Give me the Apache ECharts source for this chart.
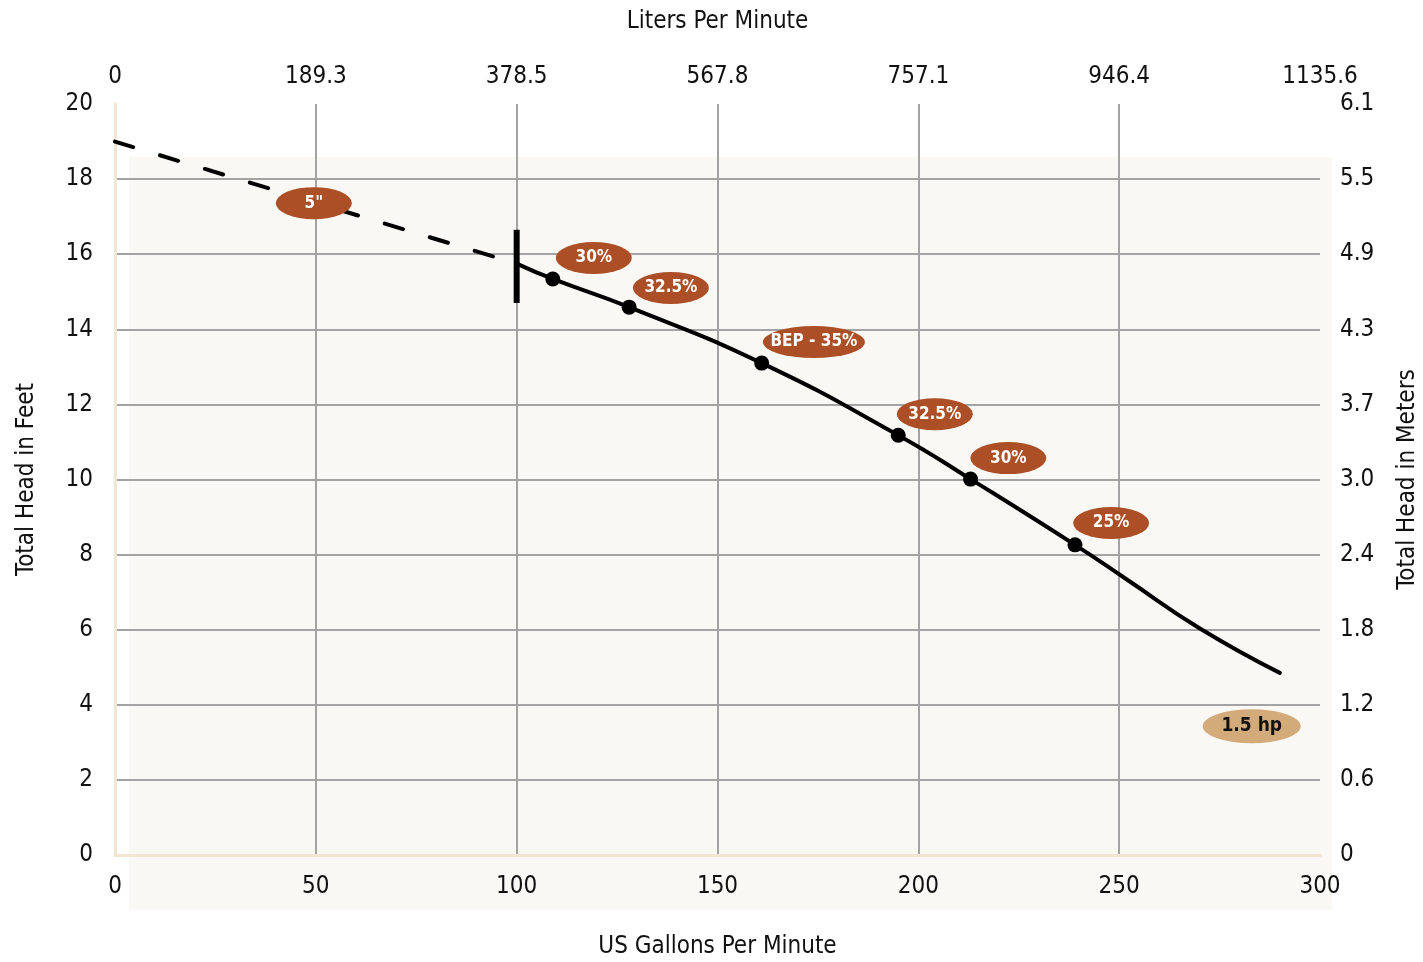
<!DOCTYPE html>
<html><head><meta charset="utf-8">
<script src="https://cdn.jsdelivr.net/npm/echarts@6/dist/echarts.min.js"></script>
<style>html,body{margin:0;padding:0;background:#fff;overflow:hidden}#c{width:1423px;height:962px}</style>
</head><body><div id="c"></div>
<script>
// ---- data ----
const gpmTicks = [0, 50, 100, 150, 200, 250, 300];
const lpmTickLabels = ['0', '189.3', '378.5', '567.8', '757.1', '946.4', '1135.6'];
const feetTicks = [0, 2, 4, 6, 8, 10, 12, 14, 16, 18, 20];
const meterTickLabels = ['0', '0.6', '1.2', '1.8', '2.4', '3.0', '3.7', '4.3', '4.9', '5.5', '6.1'];
const dashedCurve = [[0, 19.0], [50, 17.37], [100, 15.75]];
const solidCurve = [[100, 15.75], [109, 15.34], [128, 14.59], [161, 13.1], [195, 11.18], [213, 10.01], [239, 8.26], [252, 7.33], [270, 6.04], [290, 4.85]];
const effPoints = [[109, 15.34], [128, 14.59], [161, 13.1], [195, 11.18], [213, 10.01], [239, 8.26]];
const startMarker = [[100, 16.65], [100, 14.7]];
const effLabels = ['5"', '30%', '32.5%', 'BEP - 35%', '32.5%', '30%', '25%'];
const effLabelPos = [[49.5, 17.36], [119.2, 15.9], [138.4, 15.1], [174, 13.66], [204.1, 11.74], [222.4, 10.57], [248, 8.84]];
const hpLabel = '1.5 hp';
const hpLabelPos = [283, 3.43];

const FONT = "'Liberation Sans Narrow', 'DejaVu Sans Condensed', 'Roboto Condensed', sans-serif";
const chart = echarts.init(document.getElementById('c'), null, { width: 1423, height: 962 });
const axisLineStyle = { color: '#f2e6d2', width: 3 };
const gridLineStyle = { color: '#a3a3a3', width: 2 };
const tickLabel = { color: '#111', fontSize: 24, fontFamily: FONT };
const nameStyle = { color: '#111', fontSize: 24, fontFamily: FONT };

chart.setOption({
  animation: false,
  backgroundColor: '#ffffff',
  graphic: [{ type: 'rect', z: -10, shape: { x: 129, y: 157, width: 1203, height: 753 }, style: { fill: '#f9f8f4' } }],
  grid: { left: 115, top: 104, width: 1205, height: 751, containLabel: false, outerBoundsMode: 'none' },
  xAxis: [
    { type: 'value', position: 'bottom', min: 0, max: 300, interval: 50,
      name: 'US Gallons Per Minute', nameLocation: 'middle', nameGap: 80, nameTextStyle: nameStyle,
      axisLine: { show: true, lineStyle: axisLineStyle }, axisTick: { show: false },
      axisLabel: Object.assign({ margin: 20 }, tickLabel),
      splitLine: { show: true, showMinLine: false, showMaxLine: false, lineStyle: gridLineStyle } },
    { type: 'value', position: 'top', min: 0, max: 300, interval: 50,
      name: 'Liters Per Minute', nameLocation: 'middle', nameGap: 70, nameTextStyle: nameStyle,
      axisLine: { show: true, lineStyle: axisLineStyle }, axisTick: { show: false },
      axisLabel: Object.assign({ margin: 15, formatter: v => lpmTickLabels[gpmTicks.indexOf(v)] }, tickLabel),
      splitLine: { show: false } }
  ],
  yAxis: [
    { type: 'value', position: 'left', min: 0, max: 20, interval: 2,
      name: 'Total Head in Feet', nameLocation: 'middle', nameGap: 76, nameRotate: 90, nameTextStyle: nameStyle,
      axisLine: { show: true, lineStyle: axisLineStyle }, axisTick: { show: false },
      axisLabel: Object.assign({ margin: 22 }, tickLabel),
      splitLine: { show: true, showMinLine: false, showMaxLine: false, lineStyle: gridLineStyle } },
    { type: 'value', position: 'right', min: 0, max: 20, interval: 2,
      name: 'Total Head in Meters', nameLocation: 'middle', nameGap: 76, nameRotate: 90, nameTextStyle: nameStyle,
      axisLine: { show: true, lineStyle: axisLineStyle }, axisTick: { show: false },
      axisLabel: Object.assign({ margin: 20, formatter: v => meterTickLabels[feetTicks.indexOf(v)] }, tickLabel),
      splitLine: { show: false } }
  ],
  series: [
    { type: 'line', data: dashedCurve, showSymbol: false, symbol: 'none', z: 3,
      lineStyle: { color: '#000', width: 4, type: [19, 28], cap: 'round' } },
    { type: 'line', data: solidCurve, smooth: 0.5, showSymbol: false, symbol: 'none', z: 3,
      lineStyle: { color: '#000', width: 4, cap: 'round' } },
    { type: 'line', data: startMarker, showSymbol: false, symbol: 'none', z: 4,
      lineStyle: { color: '#000', width: 6 } },
    { type: 'scatter', data: effPoints, symbol: 'circle', symbolSize: 15, z: 5,
      itemStyle: { color: '#000', opacity: 1 } },
    { type: 'scatter', z: 6, symbol: 'circle',
      data: effLabels.map((t, i) => ({ value: effLabelPos[i], name: t, symbolSize: [t.length > 6 ? 102 : 76, 32] })),
      itemStyle: { color: '#ad4f26', opacity: 1 },
      label: { show: true, position: 'inside', formatter: p => p.name, color: '#fff', fontWeight: 'bold', fontSize: 17, fontFamily: FONT } },
    { type: 'scatter', z: 6, symbol: 'circle',
      data: [{ value: hpLabelPos, name: hpLabel, symbolSize: [98, 34] }],
      itemStyle: { color: '#d3ab7b', opacity: 1 },
      label: { show: true, position: 'inside', formatter: p => p.name, color: '#111', fontWeight: 'bold', fontSize: 19, fontFamily: FONT } }
  ]
});
</script></body></html>
